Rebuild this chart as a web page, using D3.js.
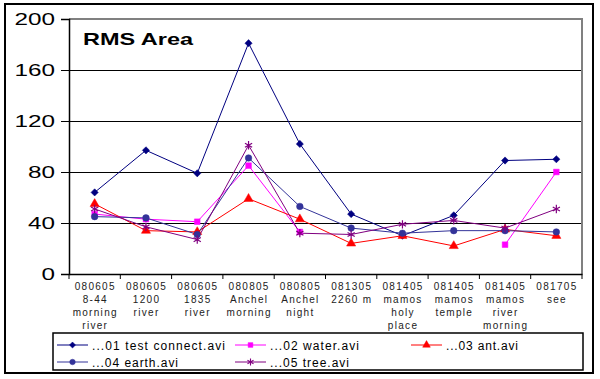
<!DOCTYPE html>
<html><head><meta charset="utf-8">
<script src="https://cdn.jsdelivr.net/npm/d3@7"></script>
<style>body{margin:0;background:#fff}svg{display:block}text{font-family:"Liberation Sans",Arial,sans-serif}</style>
</head><body><div id="c"></div>
<script>
const categories = [
  ["080605","8-44","morning","river"],
  ["080605","1200","river"],
  ["080605","1835","river"],
  ["080805","Anchel","morning"],
  ["080805","Anchel","night"],
  ["081305","2260 m"],
  ["081405","mamos","holy","place"],
  ["081405","mamos","temple"],
  ["081405","mamos","river","morning"],
  ["081705","see"]
];
const seriesNames = ["...01 test connect.avi","...02 water.avi","...03 ant.avi","...04 earth.avi","...05 tree.avi"];
const s1 = [64, 97, 79, 181, 102, 47, 30, 46, 89, 90];
const s2 = [47, 43, 41, 85, 33, null, null, null, 23, 80];
const s3 = [55, 34, 33, 59, 43, 24, 30, 22, 35, 30];
const s4 = [45, 44, 31, 91, 53, 36, 32, 34, 34, 33];
const s5 = [51, 37, 27, 101, 32, 31, 39, 42, 36, 51];
const yTicks = [0, 40, 80, 120, 160, 200];
const title = "RMS Area";

const colors = ["#000080","#ff00ff","#ff0000","#333399","#800080"];
const symbols = [d3.symbolSquare, d3.symbolSquare, d3.symbolTriangle, d3.symbolCircle, d3.symbolAsterisk];
const rot = [45, 0, 0, 0, 0];
const symSizes = [26, 32, 36, 34, 48];
const data = [s1, s2, s3, s4, s5];

const W = 600, H = 379;
const svg = d3.select("#c").append("svg").attr("width", W).attr("height", H);
const L = 69, R = 582, T = 19, B = 274;

svg.append("rect").attr("x", 5).attr("y", 4).attr("width", 588).attr("height", 369)
  .attr("fill", "#fff").attr("stroke", "#000").attr("stroke-width", 2);

const x = d3.scaleBand().domain(d3.range(categories.length)).range([L, R]).padding(0);
const y = d3.scaleLinear().domain([0, 200]).range([B, T]);

svg.append("g").selectAll("line").data(yTicks.filter(t => t > 0 && t < 200)).join("line")
  .attr("x1", L).attr("x2", R).attr("y1", d => y(d)).attr("y2", d => y(d))
  .attr("stroke", "#000").attr("stroke-width", 1).attr("shape-rendering", "crispEdges");
svg.append("path").attr("d", `M${L},${y(200)}H${R}V${B}`).attr("fill", "none")
  .attr("stroke", "#808080").attr("stroke-width", 2);

const ya = svg.append("g").attr("transform", `translate(${L},0)`)
  .call(d3.axisLeft(y).tickValues(yTicks).tickSize(8).tickPadding(10).tickFormat(d3.format("d")));
ya.select(".domain").attr("stroke", "#000").attr("stroke-width", 1.5);
ya.selectAll(".tick line").attr("stroke", "#000").attr("stroke-width", 1);
ya.selectAll(".tick text").attr("font-size", 17).attr("fill", "#000")
  .attr("font-family", "'Liberation Sans',Arial,sans-serif")
  .attr("textLength", d => String(d).length * 13.5).attr("lengthAdjust", "spacingAndGlyphs")
  .attr("x", -14).attr("dy", "0.35em");

const xa = svg.append("g").attr("transform", `translate(0,${B})`)
  .call(d3.axisBottom(x).tickSize(0).tickFormat(""));
xa.select(".domain").attr("stroke", "#000").attr("stroke-width", 1.5);
const bounds = d3.range(categories.length + 1).map(i => i < categories.length ? x(i) : R);
svg.append("g").selectAll("line").data(bounds).join("line")
  .attr("x1", d => d).attr("x2", d => d).attr("y1", B).attr("y2", B + 5)
  .attr("stroke", "#000").attr("stroke-width", 1);

const cl = svg.append("g");
categories.forEach((lines, i) => {
  const t = cl.append("text").attr("text-anchor", "middle").attr("font-size", 10)
    .attr("letter-spacing", 1.3).attr("fill", "#222");
  lines.forEach((s, j) => {
    t.append("tspan").attr("x", x(i) + x.bandwidth() / 2 + 0.6).attr("y", 290 + j * 13).text(s);
  });
});

const cx = i => x(i) + x.bandwidth() / 2;
const line = d3.line().defined(d => d != null).x((d, i) => cx(i)).y(d => y(d));
data.forEach((arr, k) => {
  svg.append("path").datum(arr).attr("d", line).attr("fill", "none")
    .attr("stroke", colors[k]).attr("stroke-width", 1);
});
data.forEach((arr, k) => {
  const stroked = k === 4;
  svg.append("g").selectAll("path").data(arr.map((v, i) => ({v, i})).filter(d => d.v != null)).join("path")
    .attr("transform", d => `translate(${cx(d.i)},${y(d.v)}) rotate(${rot[k]})`)
    .attr("d", d3.symbol().type(symbols[k]).size(symSizes[k]))
    .attr("fill", stroked ? "none" : colors[k])
    .attr("stroke", colors[k]).attr("stroke-width", stroked ? 1.2 : 0.5);
});

svg.append("text").attr("x", 83).attr("y", 45).attr("font-size", 17).attr("font-weight", "bold")
  .attr("textLength", 110).attr("lengthAdjust", "spacingAndGlyphs").text(title);

svg.append("rect").attr("x", 53).attr("y", 333).attr("width", 530).attr("height", 37)
  .attr("fill", "#fff").attr("stroke", "#000").attr("stroke-width", 1.5);
const legPos = [[57, 345], [235, 345], [411, 345], [57, 362], [235, 362]];
const legLen = [133, 89, 72, 86, 79];
seriesNames.forEach((name, k) => {
  const [lx, ly] = legPos[k];
  const g = svg.append("g");
  g.append("line").attr("x1", lx).attr("x2", lx + 31).attr("y1", ly).attr("y2", ly)
    .attr("stroke", colors[k]).attr("stroke-width", 1);
  g.append("path").attr("transform", `translate(${lx + 15.5},${ly}) rotate(${rot[k]})`)
    .attr("d", d3.symbol().type(symbols[k]).size(symSizes[k] * 0.7))
    .attr("fill", k === 4 ? "none" : colors[k]).attr("stroke", colors[k]).attr("stroke-width", k === 4 ? 1.1 : 0.5);
  g.append("text").attr("x", lx + 35).attr("y", ly + 4.5).attr("font-size", 12)
    .attr("textLength", legLen[k]).attr("lengthAdjust", "spacing")
    .attr("fill", "#000").text(name);
});
</script></body></html>
